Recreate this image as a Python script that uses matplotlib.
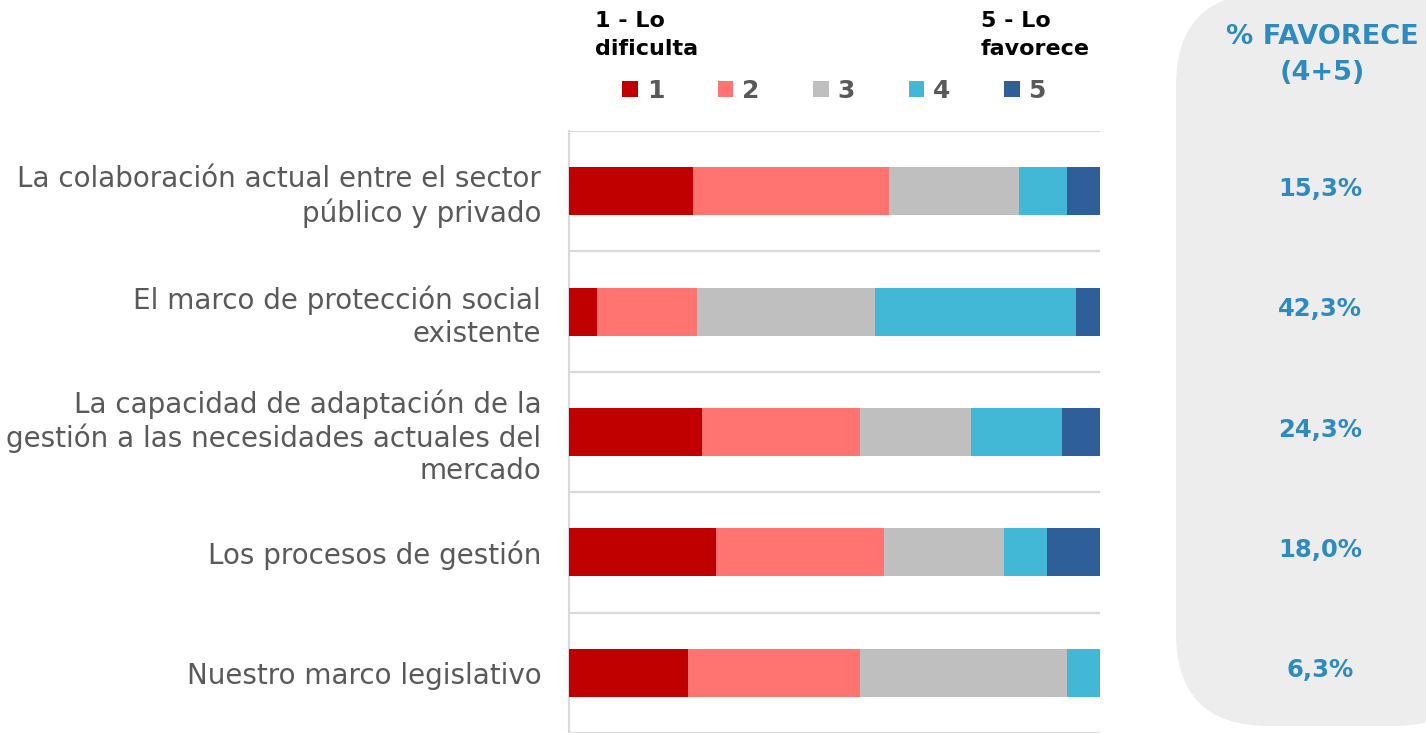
import matplotlib
matplotlib.use("Agg")
import matplotlib.pyplot as plt
from matplotlib.patches import FancyBboxPatch, Patch
from matplotlib.transforms import blended_transform_factory
import numpy as np

categories = [
    "La colaboración actual entre el sector\npúblico y privado",
    "El marco de protección social\nexistente",
    "La capacidad de adaptación de la\ngestión a las necesidades actuales del\nmercado",
    "Los procesos de gestión",
    "Nuestro marco legislativo",
]
series_names = ["1", "2", "3", "4", "5"]
s1 = [23.4, 5.3, 25.0, 27.7, 22.4]
s2 = [36.9, 18.8, 29.8, 31.6, 32.4]
s3 = [24.4, 33.6, 20.9, 22.7, 38.9]
s4 = [9.0, 37.8, 17.1, 8.0, 6.3]
s5 = [6.3, 4.5, 7.2, 10.0, 0.0]
favorece_labels = ["15,3%", "42,3%", "24,3%", "18,0%", "6,3%"]
colors = ["#C00000", "#FF7371", "#BFBFBF", "#43B8D6", "#2E5F99"]

W, H = 1426, 733
fig = plt.figure(figsize=(W / 100, H / 100), dpi=100)
plt.rcParams['font.family'] = ['DejaVu Sans']

# right panel
panel = FancyBboxPatch((1176 / W, 7 / H), (W + 60 - 1176) / W, (H) / H,
                       boxstyle="round,pad=0,rounding_size=0.065",
                       transform=fig.transFigure, facecolor="#EDEDED",
                       edgecolor="none", mutation_aspect=W / H, zorder=-5)
fig.patches.append(panel)

ax = fig.add_axes([569 / W, 0, (1100 - 569) / W, (H - 131) / H])
ax.patch.set_alpha(0)
data = [s1, s2, s3, s4, s5]
y = np.arange(len(categories))
left = np.zeros(len(categories))
for vals, c, name in zip(data, colors, series_names):
    vals = np.array(vals)
    ax.barh(y, vals, left=left, height=0.4, color=c, label=name, zorder=3)
    left += vals

ax.set_xlim(0, 100)
ax.set_ylim(4.5, -0.5)
for b in np.arange(-0.5, 4.6, 1.0):
    ax.axhline(b, color="#D9D9D9", lw=1.6, zorder=1)
for s in ["top", "right", "bottom"]:
    ax.spines[s].set_visible(False)
ax.spines["left"].set_color("#D9D9D9")
ax.spines["left"].set_linewidth(1.6)
ax.set_xticks([])
ax.set_yticks(y)
ax.set_yticklabels(categories, fontsize=20, color="#595959", linespacing=1.2)
ax.tick_params(axis="y", length=0, pad=20)

# favorece labels
tr = blended_transform_factory(fig.transFigure, ax.transData)
for yi, lab in zip(y, favorece_labels):
    ax.text(1320 / W, yi - 0.02, lab, transform=tr, ha="center", va="center",
            fontsize=17.5, fontweight="bold", color="#2E8BC0", clip_on=False,
            zorder=10)

fig.text(1322 / W, 1 - 55 / H, "% FAVORECE\n(4+5)", ha="center", va="center",
         fontsize=19.5, fontweight="bold", color="#2E8BC0", linespacing=1.45)

fig.text(595 / W, 1 - 11 / H, "1 - Lo\ndificulta", ha="left", va="top",
         fontsize=16, fontweight="bold", color="black", linespacing=1.5)
fig.text(981 / W, 1 - 11 / H, "5 - Lo\nfavorece", ha="left", va="top",
         fontsize=16, fontweight="bold", color="black", linespacing=1.5)

handles = [Patch(facecolor=c, edgecolor="none") for c in colors]
leg = fig.legend(handles, series_names, loc="center", ncol=5,
                 bbox_to_anchor=(834 / W, 1 - 91 / H), frameon=False,
                 handlelength=0.62, handleheight=0.62, handletextpad=0.35,
                 columnspacing=2.15, prop={"size": 18, "weight": "bold"})
for t in leg.get_texts():
    t.set_color("#595959")

fig.savefig("out.png", dpi=100)
